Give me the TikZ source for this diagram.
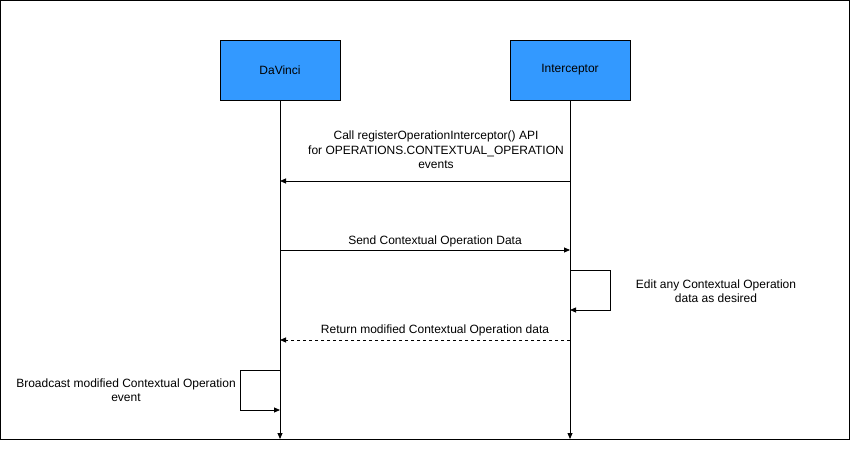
\documentclass[tikz,border=0pt]{standalone}
\usepackage{fontspec}
\setmainfont{Liberation Sans}
\usetikzlibrary{arrows.meta, positioning}

\begin{document}
\begin{tikzpicture}[
    x=1pt, y=-1pt,
    font=\fontsize{12}{14.5}\selectfont,
    actor/.style={draw, thick, fill={rgb,255:red,51;green,153;blue,255}, minimum width=120pt, minimum height=60pt, inner sep=0pt},
    lifeline/.style={thick, -{Triangle[length=6pt, width=5pt]}},
    msg/.style={thick, -{Triangle[length=6pt, width=5pt]}},
    label/.style={align=center, inner sep=0pt}
]

% frame and page size
\useasboundingbox (0,0) rectangle (851,449);
\draw[thick] (0.5,0.5) rectangle (849,439);

% actors
\node[actor] (davinci) at (280,70) {DaVinci};
\node[actor] (interceptor) at (570,70) {Interceptor};

% lifelines
\coordinate (davinciEnd) at (280,439);
\coordinate (interceptorEnd) at (570,439);
\draw[lifeline] (davinci.south) -- (davinciEnd);
\draw[lifeline] (interceptor.south) -- (interceptorEnd);

% register call
\coordinate (regFrom) at (570,181);
\coordinate (regTo) at (280,181);
\draw[msg] (regFrom) -- (regTo);
\node[label] (regText) at (436,150) {Call registerOperationInterceptor() API\\for OPERATIONS.CONTEXTUAL\_OPERATION\\events};

% send data
\coordinate (sendFrom) at (280,250);
\coordinate (sendTo) at (570,250);
\draw[msg] (sendFrom) -- (sendTo);
\node[label] (sendText) at (435,241) {Send Contextual Operation Data};

% edit loop on interceptor
\coordinate (editA) at (570,270);
\coordinate (editB) at (610,270);
\coordinate (editC) at (610,310);
\coordinate (editD) at (570,310);
\draw[msg] (editA) -- (editB) -- (editC) -- (editD);
\node[label] (editText) at (716,291) {Edit any Contextual Operation\\data as desired};

% return data
\coordinate (retFrom) at (570,340);
\coordinate (retTo) at (280,340);
\draw[msg, dashed] (retFrom) -- (retTo);
\node[label] (retText) at (435,330) {Return modified Contextual Operation data};

% broadcast loop on davinci
\coordinate (castA) at (280,370);
\coordinate (castB) at (240,370);
\coordinate (castC) at (240,410);
\coordinate (castD) at (280,410);
\draw[msg] (castA) -- (castB) -- (castC) -- (castD);
\node[label] (castText) at (126,390) {Broadcast modified Contextual Operation\\event};

\end{tikzpicture}
\end{document}
